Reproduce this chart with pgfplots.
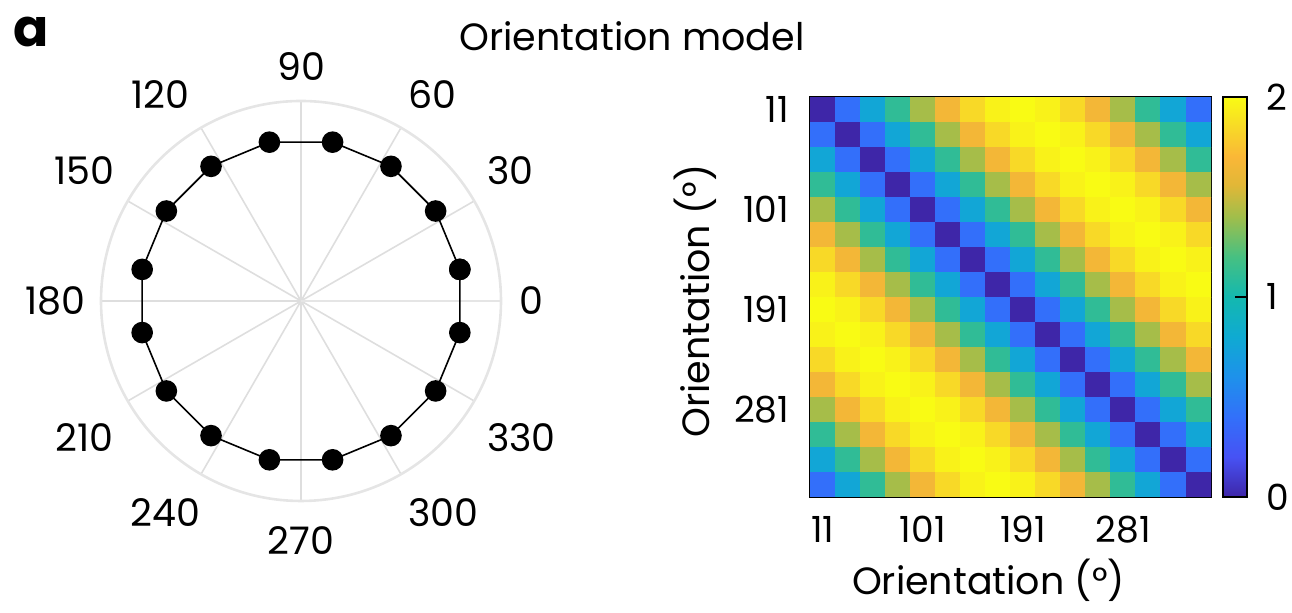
\documentclass[border=0pt]{standalone}
\usepackage{fontspec}
\setmainfont{Poppins}
\usepackage{pgfplots}
\usepackage{pgfplotstable}
\pgfplotsset{compat=1.18}
\usepgfplotslibrary{polar}

% parula-like colour map
\pgfplotsset{
  colormap={parula}{
    rgb255(0cm)=(62,38,168) rgb255(10cm)=(71,82,244) rgb255(20cm)=(50,112,250)
    rgb255(30cm)=(30,145,235) rgb255(40cm)=(15,170,210) rgb255(50cm)=(20,184,175)
    rgb255(60cm)=(70,192,130) rgb255(70cm)=(160,190,75) rgb255(78cm)=(225,183,55)
    rgb255(85cm)=(250,183,55) rgb255(92cm)=(248,215,40) rgb255(100cm)=(249,251,20)
  }
}

\newcommand{\bigfont}{\fontsize{19}{22}\selectfont}
\newcommand{\tickfont}{\fontsize{18}{21}\selectfont}

% orientations of the 16 stimuli (closed polygon)
\pgfplotstableread{
ang r
11.25 1
33.75 1
56.25 1
78.75 1
101.25 1
123.75 1
146.25 1
168.75 1
191.25 1
213.75 1
236.25 1
258.75 1
281.25 1
303.75 1
326.25 1
348.75 1
11.25 1
}\orientations

% pairwise distance matrix (x = column, y = row, c = distance)
\pgfplotstableread[row sep=\\]{
x y c\\
1 1 0\\ 2 1 0.3902\\ 3 1 0.7654\\ 4 1 1.1111\\ 5 1 1.4142\\ 6 1 1.6629\\ 7 1 1.8478\\ 8 1 1.9616\\ 9 1 2\\ 10 1 1.9616\\ 11 1 1.8478\\ 12 1 1.6629\\ 13 1 1.4142\\ 14 1 1.1111\\ 15 1 0.7654\\ 16 1 0.3902\\
1 2 0.3902\\ 2 2 0\\ 3 2 0.3902\\ 4 2 0.7654\\ 5 2 1.1111\\ 6 2 1.4142\\ 7 2 1.6629\\ 8 2 1.8478\\ 9 2 1.9616\\ 10 2 2\\ 11 2 1.9616\\ 12 2 1.8478\\ 13 2 1.6629\\ 14 2 1.4142\\ 15 2 1.1111\\ 16 2 0.7654\\
1 3 0.7654\\ 2 3 0.3902\\ 3 3 0\\ 4 3 0.3902\\ 5 3 0.7654\\ 6 3 1.1111\\ 7 3 1.4142\\ 8 3 1.6629\\ 9 3 1.8478\\ 10 3 1.9616\\ 11 3 2\\ 12 3 1.9616\\ 13 3 1.8478\\ 14 3 1.6629\\ 15 3 1.4142\\ 16 3 1.1111\\
1 4 1.1111\\ 2 4 0.7654\\ 3 4 0.3902\\ 4 4 0\\ 5 4 0.3902\\ 6 4 0.7654\\ 7 4 1.1111\\ 8 4 1.4142\\ 9 4 1.6629\\ 10 4 1.8478\\ 11 4 1.9616\\ 12 4 2\\ 13 4 1.9616\\ 14 4 1.8478\\ 15 4 1.6629\\ 16 4 1.4142\\
1 5 1.4142\\ 2 5 1.1111\\ 3 5 0.7654\\ 4 5 0.3902\\ 5 5 0\\ 6 5 0.3902\\ 7 5 0.7654\\ 8 5 1.1111\\ 9 5 1.4142\\ 10 5 1.6629\\ 11 5 1.8478\\ 12 5 1.9616\\ 13 5 2\\ 14 5 1.9616\\ 15 5 1.8478\\ 16 5 1.6629\\
1 6 1.6629\\ 2 6 1.4142\\ 3 6 1.1111\\ 4 6 0.7654\\ 5 6 0.3902\\ 6 6 0\\ 7 6 0.3902\\ 8 6 0.7654\\ 9 6 1.1111\\ 10 6 1.4142\\ 11 6 1.6629\\ 12 6 1.8478\\ 13 6 1.9616\\ 14 6 2\\ 15 6 1.9616\\ 16 6 1.8478\\
1 7 1.8478\\ 2 7 1.6629\\ 3 7 1.4142\\ 4 7 1.1111\\ 5 7 0.7654\\ 6 7 0.3902\\ 7 7 0\\ 8 7 0.3902\\ 9 7 0.7654\\ 10 7 1.1111\\ 11 7 1.4142\\ 12 7 1.6629\\ 13 7 1.8478\\ 14 7 1.9616\\ 15 7 2\\ 16 7 1.9616\\
1 8 1.9616\\ 2 8 1.8478\\ 3 8 1.6629\\ 4 8 1.4142\\ 5 8 1.1111\\ 6 8 0.7654\\ 7 8 0.3902\\ 8 8 0\\ 9 8 0.3902\\ 10 8 0.7654\\ 11 8 1.1111\\ 12 8 1.4142\\ 13 8 1.6629\\ 14 8 1.8478\\ 15 8 1.9616\\ 16 8 2\\
1 9 2\\ 2 9 1.9616\\ 3 9 1.8478\\ 4 9 1.6629\\ 5 9 1.4142\\ 6 9 1.1111\\ 7 9 0.7654\\ 8 9 0.3902\\ 9 9 0\\ 10 9 0.3902\\ 11 9 0.7654\\ 12 9 1.1111\\ 13 9 1.4142\\ 14 9 1.6629\\ 15 9 1.8478\\ 16 9 1.9616\\
1 10 1.9616\\ 2 10 2\\ 3 10 1.9616\\ 4 10 1.8478\\ 5 10 1.6629\\ 6 10 1.4142\\ 7 10 1.1111\\ 8 10 0.7654\\ 9 10 0.3902\\ 10 10 0\\ 11 10 0.3902\\ 12 10 0.7654\\ 13 10 1.1111\\ 14 10 1.4142\\ 15 10 1.6629\\ 16 10 1.8478\\
1 11 1.8478\\ 2 11 1.9616\\ 3 11 2\\ 4 11 1.9616\\ 5 11 1.8478\\ 6 11 1.6629\\ 7 11 1.4142\\ 8 11 1.1111\\ 9 11 0.7654\\ 10 11 0.3902\\ 11 11 0\\ 12 11 0.3902\\ 13 11 0.7654\\ 14 11 1.1111\\ 15 11 1.4142\\ 16 11 1.6629\\
1 12 1.6629\\ 2 12 1.8478\\ 3 12 1.9616\\ 4 12 2\\ 5 12 1.9616\\ 6 12 1.8478\\ 7 12 1.6629\\ 8 12 1.4142\\ 9 12 1.1111\\ 10 12 0.7654\\ 11 12 0.3902\\ 12 12 0\\ 13 12 0.3902\\ 14 12 0.7654\\ 15 12 1.1111\\ 16 12 1.4142\\
1 13 1.4142\\ 2 13 1.6629\\ 3 13 1.8478\\ 4 13 1.9616\\ 5 13 2\\ 6 13 1.9616\\ 7 13 1.8478\\ 8 13 1.6629\\ 9 13 1.4142\\ 10 13 1.1111\\ 11 13 0.7654\\ 12 13 0.3902\\ 13 13 0\\ 14 13 0.3902\\ 15 13 0.7654\\ 16 13 1.1111\\
1 14 1.1111\\ 2 14 1.4142\\ 3 14 1.6629\\ 4 14 1.8478\\ 5 14 1.9616\\ 6 14 2\\ 7 14 1.9616\\ 8 14 1.8478\\ 9 14 1.6629\\ 10 14 1.4142\\ 11 14 1.1111\\ 12 14 0.7654\\ 13 14 0.3902\\ 14 14 0\\ 15 14 0.3902\\ 16 14 0.7654\\
1 15 0.7654\\ 2 15 1.1111\\ 3 15 1.4142\\ 4 15 1.6629\\ 5 15 1.8478\\ 6 15 1.9616\\ 7 15 2\\ 8 15 1.9616\\ 9 15 1.8478\\ 10 15 1.6629\\ 11 15 1.4142\\ 12 15 1.1111\\ 13 15 0.7654\\ 14 15 0.3902\\ 15 15 0\\ 16 15 0.3902\\
1 16 0.3902\\ 2 16 0.7654\\ 3 16 1.1111\\ 4 16 1.4142\\ 5 16 1.6629\\ 6 16 1.8478\\ 7 16 1.9616\\ 8 16 2\\ 9 16 1.9616\\ 10 16 1.8478\\ 11 16 1.6629\\ 12 16 1.4142\\ 13 16 1.1111\\ 14 16 0.7654\\ 15 16 0.3902\\ 16 16 0\\
}\distances

\begin{document}
\begin{tikzpicture}
\path[use as bounding box] (0,0) rectangle (646pt,306.5pt);

% panel letter and title
\node[font=\fontsize{26}{28}\selectfont\bfseries] at (15.5pt,290.5pt) {a};
\node[font=\bigfont] at (316pt,288.5pt) {Orientation model};

% ---- polar plot of the orientations ----
\begin{polaraxis}[
  at={(150.5pt,156pt)}, anchor=center,
  width=200pt, height=200pt, scale only axis,
  xmin=0, xmax=360, ymin=0, ymax=1.235,
  xtick={0,30,...,330}, xticklabels={},
  ytick=\empty,
  major tick length=0pt,
  xmajorgrids,
  major grid style={black!13, line width=0.8pt},
  axis line style={black!10, line width=1.3pt},
  clip=false,
]
\addplot[black, line width=0.8pt, mark=*, mark size=5pt,
         mark options={fill=black}] table[x=ang, y=r] {\orientations};
% angle labels around the dial
\begin{scope}[every node/.style={font=\bigfont, anchor=center, inner sep=0pt}]
\node at (axis cs:0,1.42) {0};
\node at (axis cs:32,1.525) {30};
\node at (axis cs:57.5,1.512) {60};
\node at (axis cs:90,1.445) {90};
\node at (axis cs:124.3,1.543) {120};
\node at (axis cs:149,1.562) {150};
\node at (axis cs:180,1.515) {180};
\node at (axis cs:212.2,1.58) {210};
\node at (axis cs:237.3,1.55) {240};
\node at (axis cs:270,1.48) {270};
\node at (axis cs:304,1.574) {300};
\node at (axis cs:328.3,1.6) {330};
\end{scope}
\end{polaraxis}

% ---- distance matrix ----
\begin{axis}[
  at={(405pt,58pt)}, anchor=south west,
  width=200.5pt, height=200pt, scale only axis,
  xmin=0.5, xmax=16.5, ymin=0.5, ymax=16.5, y dir=reverse,
  xtick={1,5,9,13}, xticklabels={11,101,191,281},
  ytick={1,5,9,13}, yticklabels={11,101,191,281},
  xtick pos=left, ytick pos=left,
  tick align=inside, major tick length=4pt,
  tick style={black, line width=0.8pt},
  ticklabel style={font=\tickfont},
  xticklabel style={yshift=-6pt},
  yticklabel style={xshift=-7pt},
  xlabel={Orientation (°)}, ylabel={Orientation (°)},
  label style={font=\bigfont},
  xlabel style={at={(axis description cs:0.445,0)}, anchor=center, yshift=-41.5pt},
  ylabel style={at={(axis description cs:-0.285,0.49)}, anchor=center},
  axis line style={black, line width=0.8pt},
  colormap name=parula,
  point meta min=0, point meta max=2,
  colorbar,
  colorbar style={
    at={(parent axis.north east)}, anchor=north west, xshift=-2.5pt,
    width=12pt,
    ytick={0,1,2}, ytick pos=right,
    tick align=inside, major tick length=6pt,
    tick style={black, line width=0.8pt},
    yticklabel style={font=\tickfont, xshift=6pt},
    axis line style={black, line width=0.8pt},
    /pgf/number format/assume math mode=true,
  },
]
\addplot[matrix plot*, mesh/cols=16, point meta=explicit]
  table[x=x, y=y, meta=c] {\distances};
\end{axis}
\end{tikzpicture}
\end{document}
